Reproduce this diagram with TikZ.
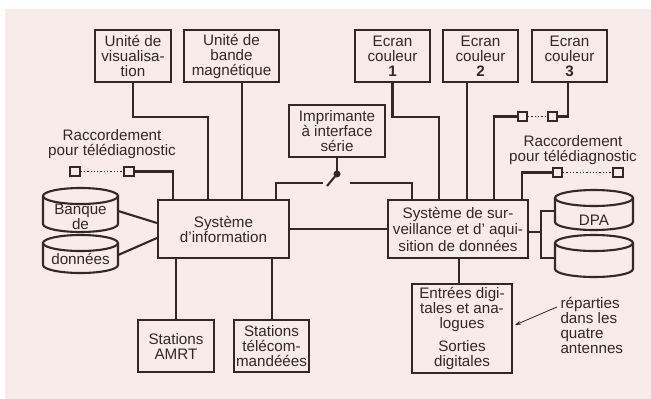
\documentclass[tikz,border=0pt]{standalone}
\usepackage{fontspec}
\setmainfont{Liberation Sans}
\usetikzlibrary{arrows.meta}
\definecolor{bg}{RGB}{248,236,234}
\definecolor{ink}{RGB}{50,40,42}
\newcommand\drawcyl[5]{%
  \draw[wire] (#1,#3) ellipse [x radius=#2, y radius=#5];
  \draw[wire] (#1-#2,#3) -- (#1-#2,#4) arc[start angle=180,end angle=0,x radius=#2,y radius=#5] -- (#1+#2,#3);
}
\begin{document}
\begin{tikzpicture}[x=1pt,y=-1pt,
  every node/.style={text=ink,font=\fontsize{15.2}{15}\selectfont},
  box/.style={draw=ink,line width=2.1pt,inner sep=0pt,align=center},
  wire/.style={draw=ink,line width=2.1pt},
  sq/.style={draw=ink,line width=1.7pt,minimum size=9.5pt,inner sep=0pt},
  dots/.style={draw=ink,line width=1.3pt,dotted},
  ghost/.style={inner sep=0pt},
  ]
\useasboundingbox (0,0) rectangle (651,399);
\fill[white] (0,0) rectangle (651,399);
\fill[bg] (5,9) rectangle (651,399);

% boxes
\node[box,minimum width=76,minimum height=52] (vis) at (133,56) {Unité de\\visualisa-\\tion};
\node[box,minimum width=95,minimum height=52] (band) at (231.5,56) {Unité de\\bande\\magnétique};
\node[box,minimum width=75,minimum height=52] (ec1) at (392.5,56) {Ecran\\couleur\\\textbf{1}};
\node[box,minimum width=75,minimum height=52] (ec2) at (480.5,56) {Ecran\\couleur\\\textbf{2}};
\node[box,minimum width=75,minimum height=52] (ec3) at (569.5,56) {Ecran\\couleur\\\textbf{3}};
\node[box,minimum width=96,minimum height=52] (prn) at (337,131) {Imprimante\\à interface\\série};
\node[box,minimum width=131,minimum height=58] (si) at (223.5,229) {Système\\d’information};
\node[box,minimum width=140,minimum height=58,font=\fontsize{15.2}{16.5}\selectfont] (ss) at (458,229) {Système de sur-\\veillance et d’ aqui-\\sition de données};
\node[box,minimum width=76,minimum height=52] (amrt) at (176,346) {Stations\\AMRT};
\node[box,minimum width=75,minimum height=52] (tlc) at (271.5,346) {Stations\\télécom-\\mandéées};
\node[box,minimum width=100,minimum height=89] (ent) at (462,328.5) {Entrées digi-\\tales et ana-\\logues\\[8pt]Sorties\\digitales};

% labels
\node[align=center] (racL) at (112,144.5) {Raccordement\\pour télédiagnostic};
\node[align=center] (racR) at (573,150.5) {Raccordement\\pour télédiagnostic};
\node[align=left,anchor=west] (rep) at (557,325.5) {réparties\\dans les\\quatre\\antennes};

% small squares
\node[sq] (sqL1) at (75,171.5) {};
\node[sq] (sqL2) at (129,171.5) {};
\node[sq] (sqR1) at (557.5,172.5) {};
\node[sq] (sqR2) at (618,172.5) {};
\node[sq] (sqE1) at (522.5,116.5) {};
\node[sq] (sqE2) at (552.5,116.5) {};

% cylinders
\drawcyl{80.5}{37.5}{196}{224}{8}
\drawcyl{80.5}{37.5}{243}{265}{8}
\drawcyl{594}{39}{198}{222}{8}
\drawcyl{594}{39}{243}{269}{8}
\node[ghost,font=\fontsize{15.2}{11}\selectfont,align=center] (db1) at (80.5,217) {Banque\\de};
\node[ghost] (db2) at (80.5,259) {données};
\node[ghost] (dpa1) at (594,220) {DPA};
\node[ghost,minimum width=78,minimum height=20] (dpa2) at (594,258) {};
\node[ghost,minimum width=75,minimum height=20] (db1b) at (80.5,211) {};
\node[ghost,minimum width=75,minimum height=20] (db2b) at (80.5,255) {};
\node[ghost,minimum width=78,minimum height=20] (dpa1b) at (594,211) {};

% switch
\node[circle,fill=ink,inner sep=0pt,minimum size=7pt] (sw) at (337,174) {};
\coordinate (swa) at (323,183);
\coordinate (swb) at (327,186);
\coordinate (swc) at (350,183);

% connectors
\draw[wire] (vis.south) |- (208,117) -- (208,0 |- si.north);
\draw[wire] (242,0 |- band.south) -- (242,0 |- si.north);
\draw[dots] (sqL1.east) -- (sqL2.west);
\draw[wire] (sqL2.east) -| (173,0 |- si.north);
\draw[wire] (276,0 |- si.north) |- (swa);
\draw[wire] (swb) -- (sw.center);
\draw[wire] (prn.south) -- (sw.center);
\draw[wire] (swc) -| (412,0 |- ss.north);
\draw[wire] (ec1.south) |- (439,117) -- (439,0 |- ss.north);
\draw[wire] (467,0 |- ec2.south) -- (467,0 |- ss.north);
\draw[wire] (568,0 |- ec3.south) |- (sqE2.east);
\draw[dots] (sqE1.east) -- (sqE2.west);
\draw[wire] (sqE1.west) -| (494,0 |- ss.north);
\draw[dots] (sqR1.east) -- (sqR2.west);
\draw[wire] (sqR1.west) -| (522,0 |- ss.north);
\draw[wire] (si.east) -- (ss.west |- si.east);
\draw[wire] (db1b.east) -- (si.west |- 0,223);
\draw[wire] (db2b.east) -- (si.west |- 0,238);
\draw[wire] (ss.east |- 0,232) -- (541,232);
\draw[wire] (dpa1b.west) -| (541,258) -- (dpa2.west);
\draw[wire] (amrt.north) -- (amrt.north |- si.south);
\draw[wire] (272,0 |- tlc.north) -- (272,0 |- si.south);
\draw[wire] (459,0 |- ss.south) -- (459,0 |- ent.north);
\coordinate (arrS) at (557,307);
\draw[draw=ink,line width=0.8pt,-{Stealth[length=6pt,width=4pt]}] (arrS) -- (515,325);
\end{tikzpicture}
\end{document}
